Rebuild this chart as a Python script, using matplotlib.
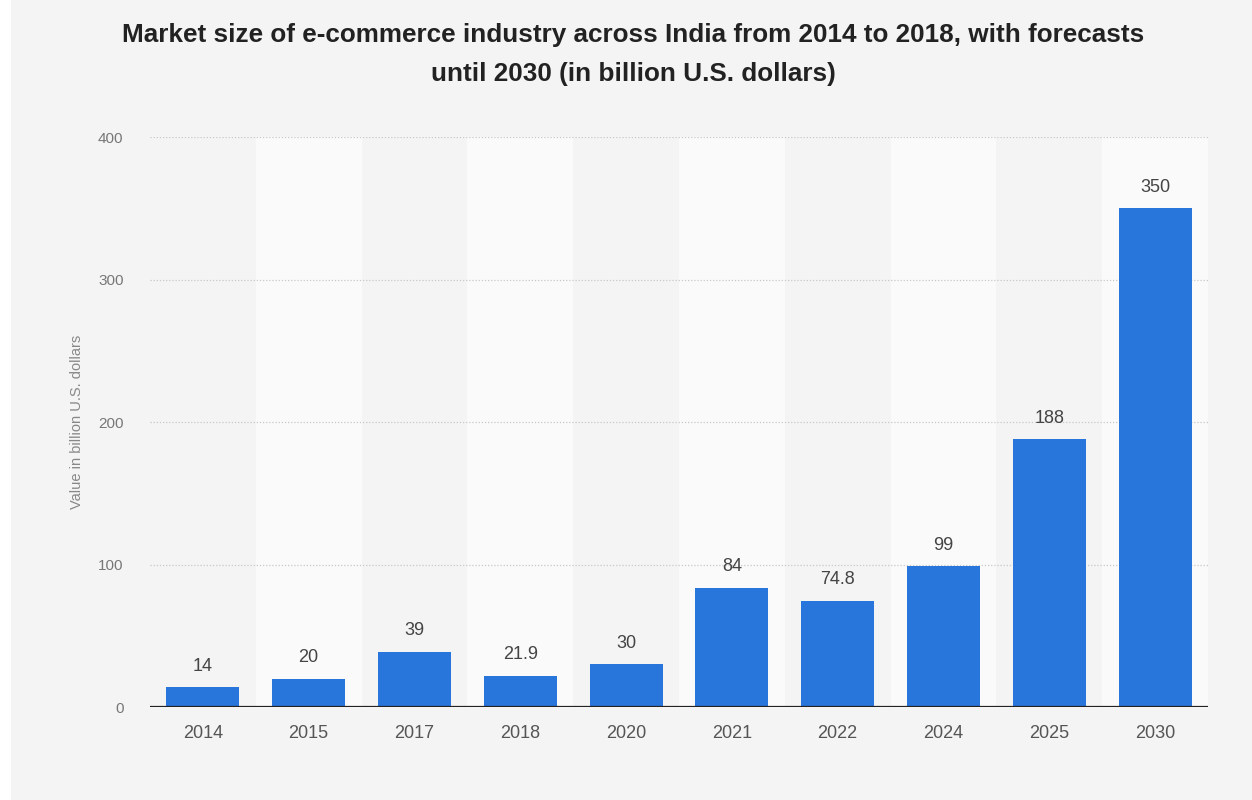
import matplotlib.pyplot as plt

# market size, billion U.S. dollars
years = ['2014', '2015', '2017', '2018', '2020', '2021', '2022', '2024', '2025', '2030']
values = [14, 20, 39, 21.9, 30, 84, 74.8, 99, 188, 350]
labels = ['14', '20', '39', '21.9', '30', '84', '74.8', '99', '188', '350']

plt.rcParams['font.family'] = ['Liberation Sans', 'DejaVu Sans']

fig = plt.figure(figsize=(12.52, 8), dpi=100, facecolor='#f4f4f4')
# thin white strip on the left edge
fig.patches.append(plt.Rectangle((0, 0), 11 / 1252, 1, transform=fig.transFigure,
                                 facecolor='white', edgecolor='none', zorder=-1))
ax = fig.add_axes([0.1198, 0.116, 0.845, 0.7125])
ax.set_facecolor('#f4f4f4')

x = list(range(len(years)))

# alternating column bands
for i in x:
    if i % 2 == 1:
        ax.axvspan(i - 0.5, i + 0.5, color='#fafafa', zorder=0, lw=0)

for y in [100, 200, 300, 400]:
    ax.axhline(y, color='#c8c8c8', lw=0.9, ls=(0, (1, 1.5)), zorder=1)

bars = ax.bar(x, values, width=0.69, color='#2875dc', zorder=2)
for b, lab in zip(bars, labels):
    ax.annotate(lab, (b.get_x() + b.get_width() / 2, b.get_height()),
                xytext=(0, 9), textcoords='offset points', ha='center', va='bottom',
                fontsize=13, color='#444444')

ax.axhline(0, color='#222222', lw=1.6, zorder=3)

ax.set_xlim(-0.5, len(years) - 0.5)
ax.set_ylim(0, 400)
ax.set_xticks(x)
ax.set_xticklabels(years, fontsize=13, color='#555555')
ax.set_yticks([0, 100, 200, 300, 400])
ax.set_yticklabels(['0', '100', '200', '300', '400'], fontsize=11, color='#777777')
ax.tick_params(axis='both', length=0)
ax.tick_params(axis='x', pad=13)
ax.tick_params(axis='y', pad=19)
for s in ax.spines.values():
    s.set_visible(False)

ax.set_ylabel('Value in billion U.S. dollars', fontsize=10.5, color='#888888', labelpad=10)

fig.text(0.506, 0.932, 'Market size of e-commerce industry across India from 2014 to 2018, with forecasts\n'
         'until 2030 (in billion U.S. dollars)', ha='center', va='center', fontsize=18.8,
         fontweight='bold', color='#222222', linespacing=1.75)

fig.savefig('out.png', dpi=100, facecolor=fig.get_facecolor())
